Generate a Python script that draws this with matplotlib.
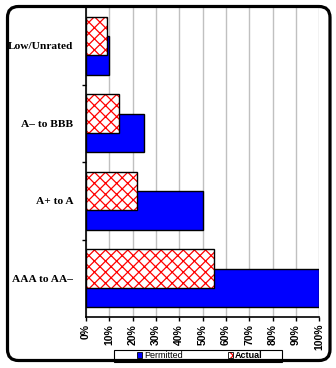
import matplotlib
matplotlib.use("Agg")
import matplotlib.pyplot as plt
from matplotlib.patches import FancyBboxPatch, Patch, Rectangle
from matplotlib.legend_handler import HandlerBase
import numpy as np

# Rating buckets, bottom to top
categories = ["AAA to AA\u2013", "A+ to A", "A\u2013 to BBB", "Low/Unrated"]
permitted = [100, 50, 25, 10]   # % permitted
actual = [55, 22, 14, 9]        # % actual
x_ticks = list(range(0, 101, 10))
x_tick_labels = [f"{v}%" for v in x_ticks]

W, H, DPI = 336, 368, 100
BLUE = "#0000ff"
RED = "#ff0000"
fig = plt.figure(figsize=(W / DPI, H / DPI), dpi=DPI)
fig.patch.set_facecolor("white")
plt.rcParams["hatch.linewidth"] = 0.9

ax = fig.add_axes([86 / W, 1 - 317 / H, (319.3 - 86) / W, (317 - 7) / H])

y = np.arange(len(categories))
bh = 0.5
off = 0.125

ax.barh(y - off, permitted, height=bh, color=BLUE, edgecolor="black",
        linewidth=1.0, zorder=3)
# red cross-hatch on white, then a black outline on top
ax.barh(y + off, actual, height=bh, facecolor="white", edgecolor=RED,
        hatch="xxx", linewidth=0, zorder=4)
ax.barh(y + off, actual, height=bh, fill=False, edgecolor="black",
        linewidth=1.0, zorder=5)

ax.set_xlim(0, 100)
ax.set_ylim(-0.5, len(categories) - 0.5)

ax.set_xticks(x_ticks)
ax.set_xticklabels(x_tick_labels, rotation=90, fontsize=7.5, fontweight="bold",
                   family="Liberation Sans", va="top")
ax.tick_params(axis="x", direction="out", length=3, width=1, pad=2, color="black")

# category labels at centres, tick marks at boundaries
ax.set_yticks(np.arange(len(categories) - 1) + 0.5)
ax.set_yticklabels([])
ax.set_yticks(y, minor=True)
ax.set_yticklabels(categories, minor=True, fontsize=8.2, fontweight="bold",
                   family="Liberation Serif")
ax.tick_params(axis="y", which="major", direction="out", length=3, width=1)
ax.tick_params(axis="y", which="minor", length=0, pad=9)

ax.grid(axis="x", color="#c0c0c0", linewidth=1, zorder=0)
ax.set_axisbelow(True)
for s in ("top", "right"):
    ax.spines[s].set_visible(False)
for s in ("left", "bottom"):
    ax.spines[s].set_linewidth(1.2)
    ax.spines[s].set_color("black")


class HatchHandler(HandlerBase):
    def create_artists(self, legend, orig_handle, xdescent, ydescent,
                       width, height, fontsize, trans):
        bg = Rectangle((-xdescent, -ydescent), width, height, facecolor="white",
                       edgecolor=RED, hatch="xxx", linewidth=0, transform=trans)
        fg = Rectangle((-xdescent, -ydescent), width, height, fill=False,
                       edgecolor="black", linewidth=0.6, transform=trans)
        return [bg, fg]


# legend box, its lower edge tucked under the border
fig.patches.append(Rectangle((114 / W, 6 / H), 168 / W, 12.5 / H,
                             transform=fig.transFigure, facecolor="white",
                             edgecolor="black", linewidth=0.8, zorder=4))

h_perm = Patch(facecolor=BLUE, edgecolor="black", linewidth=0.6)
h_act = Patch(facecolor="white", edgecolor="black")
leg = fig.legend([h_perm, h_act], ["Permitted", "Actual"], loc="center",
                 bbox_to_anchor=(200 / W, 1 - 355.5 / H), ncol=2,
                 frameon=False, handlelength=0.55, handleheight=0.55,
                 handletextpad=0.2, columnspacing=5.0, borderpad=0,
                 handler_map={h_act: HatchHandler()},
                 prop={"family": "Liberation Sans", "size": 6.5})
leg.get_texts()[1].set_fontweight("bold")
leg.set_zorder(6)

# rounded outer border
frame = FancyBboxPatch((7.5 / DPI, (H - 360.5) / DPI), (330 - 7.5) / DPI,
                       (360.5 - 6.5) / DPI,
                       boxstyle="round,pad=0,rounding_size=0.11",
                       transform=fig.dpi_scale_trans, fill=False,
                       edgecolor="black", linewidth=2.3, zorder=10)
fig.patches.append(frame)

fig.savefig("out.png", dpi=DPI)
